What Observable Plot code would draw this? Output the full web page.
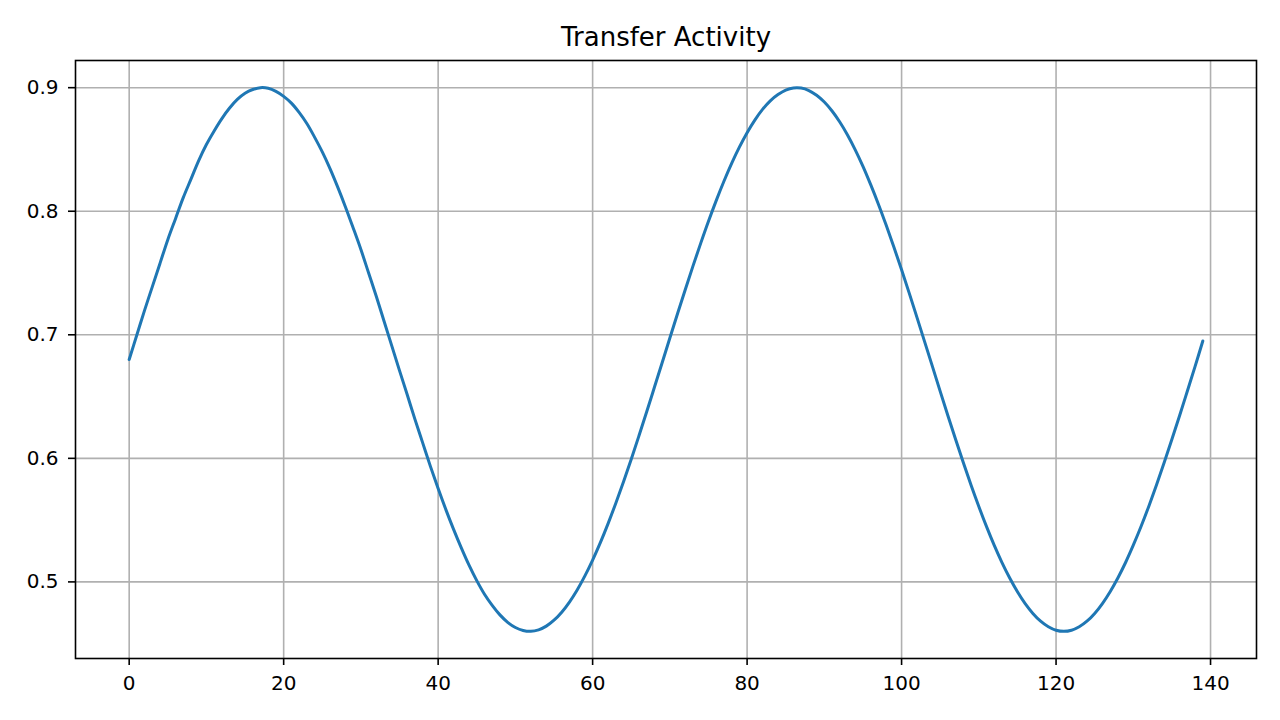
<!DOCTYPE html>
<html>
<head>
<meta charset="utf-8">
<script src="https://cdn.jsdelivr.net/npm/d3@7"></script>
<script src="https://cdn.jsdelivr.net/npm/@observablehq/plot@0.6"></script>
<style>
  html, body { margin: 0; padding: 0; background: #fff; }
  #chart svg { display: block; }
</style>
</head>
<body>
<div id="chart"></div>
<script>
const title = "Transfer Activity";
const values = [
  0.680, 0.700, 0.720, 0.739, 0.758, 0.777, 0.794, 0.811, 0.826, 0.841,
  0.854, 0.865, 0.875, 0.8835, 0.8905, 0.8955, 0.8985, 0.900, 0.8995, 0.897,
  0.893, 0.8875, 0.880, 0.871, 0.860, 0.848, 0.8345, 0.8195, 0.8035, 0.7865,
  0.769, 0.750, 0.731, 0.711, 0.691, 0.671, 0.6515, 0.6315, 0.6125, 0.5935,
  0.5755, 0.5585, 0.5425, 0.5275, 0.5135, 0.501, 0.490, 0.481, 0.4733, 0.4673,
  0.4631, 0.4607, 0.460, 0.4612, 0.4642, 0.469, 0.4755, 0.4837, 0.4935, 0.5049,
  0.5177, 0.5318, 0.5472, 0.5637, 0.5811, 0.5993, 0.6183, 0.6377, 0.6575, 0.6774,
  0.6974, 0.7172, 0.7367, 0.7558, 0.7742, 0.7919, 0.8086, 0.8243, 0.8388, 0.8519,
  0.8636, 0.8738, 0.8824, 0.8893, 0.8944, 0.8980, 0.8998, 0.8997, 0.8977, 0.8939,
  0.8884, 0.8811, 0.8722, 0.8617, 0.8497, 0.8363, 0.8215, 0.8057, 0.7888, 0.7711,
  0.7526, 0.7335, 0.7139, 0.6941, 0.6742, 0.6542, 0.6345, 0.6152, 0.5964, 0.5782,
  0.5610, 0.5447, 0.5295, 0.5156, 0.5031, 0.4920, 0.4824, 0.4745, 0.4682, 0.4637,
  0.4609, 0.4600, 0.4609, 0.4637, 0.4682, 0.4745, 0.4825, 0.4921, 0.5032, 0.5157,
  0.5297, 0.5448, 0.5611, 0.5784, 0.5966, 0.6154, 0.6347, 0.6545, 0.6744, 0.6950
];
const xTicks = [0, 20, 40, 60, 80, 100, 120, 140];
const yTicks = [0.5, 0.6, 0.7, 0.8, 0.9];

const data = values.map((v, i) => ({x: i, y: v}));

const xMin = 0, xMax = values.length - 1;
const yMin = d3.min(values), yMax = d3.max(values);
const xPad = (xMax - xMin) * 0.05, yPad = (yMax - yMin) * 0.05;

const chart = Plot.plot({
  width: 1280,
  height: 720,
  marginLeft: 75,
  marginRight: 24,
  marginTop: 60,
  marginBottom: 62,
  style: {fontFamily: "'DejaVu Sans', sans-serif", fontSize: "20px", color: "#000", background: "#fff"},
  x: {domain: [xMin - xPad, xMax + xPad], label: null},
  y: {domain: [yMin - yPad, yMax + yPad], label: null},
  marks: [
    Plot.gridX(xTicks, {stroke: "#b0b0b0", strokeOpacity: 1, strokeWidth: 1.6}),
    Plot.gridY(yTicks, {stroke: "#b0b0b0", strokeOpacity: 1, strokeWidth: 1.6}),
    Plot.line(data, {x: "x", y: "y", stroke: "#1f77b4", strokeWidth: 3, curve: "catmull-rom"}),
    Plot.axisX(xTicks, {tickSize: 7, tickPadding: 10, fontSize: 20, tickFormat: d3.format("d"), stroke: "#000", strokeWidth: 1.6, label: null}),
    Plot.axisY(yTicks, {tickSize: 7, tickPadding: 10, fontSize: 20, tickFormat: d3.format(".1f"), stroke: "#000", strokeWidth: 1.6, label: null}),
    Plot.frame({stroke: "#000", strokeWidth: 1.6}),
    Plot.text([title], {frameAnchor: "top", dy: -33, fontSize: 26, fill: "#000"})
  ]
});
document.getElementById("chart").appendChild(chart);
</script>
</body>
</html>
